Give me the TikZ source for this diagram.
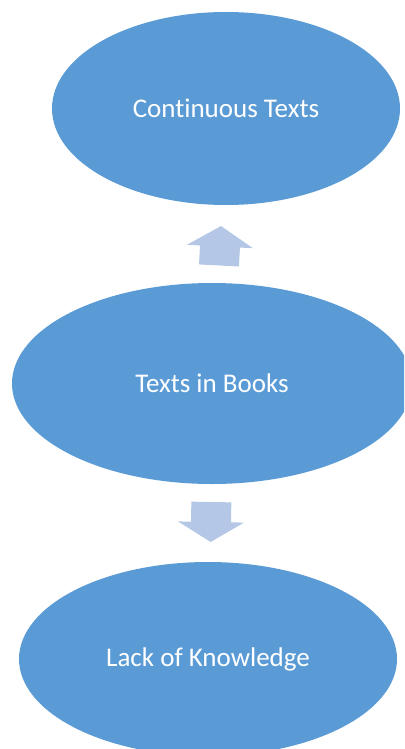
\documentclass[tikz,border=0pt]{standalone}
\usepackage{fontspec}
\setmainfont{Carlito}[Ligatures={NoCommon}]
\usetikzlibrary{shapes.geometric}
\definecolor{ellblue}{HTML}{5B9BD5}
\definecolor{arrblue}{HTML}{B4C7E7}
\tikzset{
  bubble/.style={ellipse, fill=ellblue, draw=none, inner sep=0pt, outer sep=0pt,
    text=white, font=\fontsize{27}{31}\selectfont},
  blockarrow/.style={fill=arrblue, draw=none}
}
\begin{document}
\begin{tikzpicture}[x=1pt,y=-1pt]
\useasboundingbox (0,0) rectangle (404,749);
\clip (0,0) rectangle (404,749);
\node[bubble, minimum width=348pt, minimum height=193pt] (top) at (226,108.5) {Continuous Texts};
\node[bubble, minimum width=400pt, minimum height=201pt] (mid) at (212,383.5) {Texts in Books};
\node[bubble, minimum width=378pt, minimum height=194pt] (bot) at (208,659) {Lack of Knowledge};
% up arrow
\coordinate (upc) at (220,246);
\fill[blockarrow, rotate around={-3:(upc)}] (220,226) -- (253,246.5) -- (240,246.5) -- (240,265.5) -- (200,265.5) -- (200,246.5) -- (187,246.5) -- cycle;
% down arrow
\coordinate (dnc) at (211,522);
\fill[blockarrow, rotate around={-1:(dnc)}] (191,502) -- (231,502) -- (231,522) -- (244,522) -- (211,542) -- (178,522) -- (191,522) -- cycle;
\end{tikzpicture}
\end{document}
